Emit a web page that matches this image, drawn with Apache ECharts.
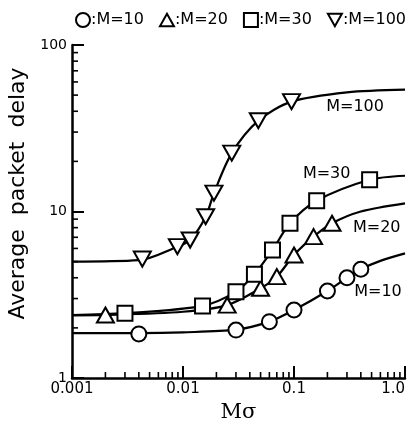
<!DOCTYPE html>
<html>
<head>
<meta charset="utf-8">
<script src="https://cdn.jsdelivr.net/npm/echarts@6/dist/echarts.min.js"></script>
<style>
  html, body { margin: 0; padding: 0; background: #fff; }
  #chart { width: 419px; height: 427px; }
</style>
</head>
<body>
<div id="chart"></div>
<script>
// markers
const m10X = [0.004, 0.03, 0.06, 0.1, 0.2, 0.3, 0.4]
const m10Y = [1.84, 1.94, 2.18, 2.56, 3.33, 4.0, 4.5]
const m20X = [0.002, 0.025, 0.05, 0.07, 0.1, 0.15, 0.22]
const m20Y = [2.39, 2.74, 3.46, 4.06, 5.48, 7.06, 8.5]
const m30X = [0.003, 0.015, 0.03, 0.044, 0.064, 0.092, 0.16, 0.48]
const m30Y = [2.45, 2.71, 3.3, 4.2, 5.87, 8.5, 11.6, 15.5]
const m100X = [0.0043, 0.0089, 0.0116, 0.016, 0.019, 0.0275, 0.0477, 0.095]
const m100Y = [5.18, 6.15, 6.74, 9.3, 12.9, 22.4, 35.1, 45.7]

// fitted curves (points along the drawn lines)
const c10X = [0.001, 0.004, 0.01, 0.03, 0.06, 0.1, 0.2, 0.3, 0.4, 0.6, 1.0]
const c10Y = [1.86, 1.86, 1.88, 1.95, 2.18, 2.56, 3.33, 4.0, 4.5, 5.05, 5.6]
const c20X = [0.001, 0.002, 0.01, 0.025, 0.05, 0.07, 0.1, 0.15, 0.22, 0.4, 1.0]
const c20Y = [2.38, 2.39, 2.5, 2.74, 3.46, 4.06, 5.48, 7.06, 8.5, 10.0, 11.2]
const c30X = [0.001, 0.003, 0.015, 0.03, 0.044, 0.064, 0.092, 0.16, 0.48, 1.0]
const c30Y = [2.39, 2.45, 2.71, 3.3, 4.2, 5.87, 8.5, 11.6, 15.5, 16.4]
const c100X = [0.001, 0.004, 0.0089, 0.0116, 0.016, 0.019, 0.0275, 0.0477, 0.095, 0.3, 1.0]
const c100Y = [5.0, 5.1, 6.15, 6.74, 9.3, 12.9, 22.4, 35.1, 45.7, 52, 54]

const curveNames = ['M=10', 'M=20', 'M=30', 'M=100']
const curveLabelX = [0.571, 0.556, 0.197, 0.355]
const curveLabelY = [3.3, 7.93, 16.8, 42.6]

// minor tick values of the log axes
const xMinor = [0.002, 0.003, 0.004, 0.005, 0.006, 0.007, 0.008, 0.009,
    0.02, 0.03, 0.04, 0.05, 0.06, 0.07, 0.08, 0.09,
    0.2, 0.3, 0.4, 0.5, 0.6, 0.7, 0.8, 0.9]
const yMinor = [2, 3, 4, 5, 6, 7, 8, 9, 20, 30, 40, 50, 60, 70, 80, 90]

const font = '"DejaVu Sans", sans-serif'
const zip = (xs, ys) => xs.map((x, i) => [x, ys[i]])
const downTri = 'path://M0,0 L10,0 L5,9 Z'
const upTri = 'path://M5,0 L10,9 L0,9 Z'

const markStyle = { color: '#fff', borderColor: '#000', borderWidth: 2, opacity: 1 }

function curve(xs, ys) {
    return {
        type: 'line', data: zip(xs, ys), smooth: 0.3, showSymbol: false,
        lineStyle: { color: '#000', width: 2.2 }, z: 2, silent: true
    }
}
function marks(name, xs, ys, symbol, size) {
    return {
        name: name, type: 'scatter', data: zip(xs, ys), symbol: symbol,
        symbolSize: size, itemStyle: markStyle, z: 3
    }
}
function minorTicks(data, vertical) {
    return {
        type: 'custom', silent: true, clip: false, z: 5,
        data: data,
        renderItem: (params, api) => {
            const p = api.coord([api.value(0), api.value(1)])
            const shape = vertical
                ? { x1: p[0], y1: p[1], x2: p[0], y2: p[1] - 6 }
                : { x1: p[0], y1: p[1], x2: p[0] + 6, y2: p[1] }
            return { type: 'line', shape: shape, style: { stroke: '#000', lineWidth: 1.6 } }
        }
    }
}

const chart = echarts.init(document.getElementById('chart'))
chart.setOption({
    animation: false,
    backgroundColor: '#fff',
    legend: {
        top: 7, left: 70, itemGap: 15, itemWidth: 14, itemHeight: 14,
        textStyle: { fontFamily: font, fontSize: 16, color: '#000', padding: [0, 0, 0, -4] },
        formatter: n => ':' + n,
        data: curveNames
    },
    grid: { left: 72, right: 14, top: 45, bottom: 49, outerBoundsMode: 'none', containLabel: false },
    xAxis: {
        type: 'log', logBase: 10, min: 0.001, max: 1,
        name: 'Mσ', nameLocation: 'middle', nameGap: 21,
        nameTextStyle: { fontFamily: '"DejaVu Serif", serif', fontSize: 21, color: '#000' },
        axisLine: { lineStyle: { color: '#000', width: 2.5 } },
        axisTick: { inside: true, length: 12, lineStyle: { color: '#000', width: 2 } },
        splitLine: { show: false },
        axisLabel: {
            fontFamily: font, fontSize: 15, color: '#000', margin: 4,
            alignMaxLabel: 'right',
            formatter: v => v >= 1 ? '1.0' : String(+v.toPrecision(1))
        }
    },
    yAxis: {
        type: 'log', logBase: 10, min: 1, max: 100,
        name: 'Average  packet  delay', nameLocation: 'middle', nameGap: 38,
        nameTextStyle: { fontFamily: font, fontSize: 22, color: '#000', padding: [0, 0, 0, 36] },
        axisLine: { lineStyle: { color: '#000', width: 2.5 } },
        axisTick: { inside: true, length: 12, lineStyle: { color: '#000', width: 2 } },
        splitLine: { show: false },
        axisLabel: { fontFamily: font, fontSize: 14, color: '#000', margin: 5 }
    },
    series: [
        minorTicks(xMinor.map(v => [v, 1]), true),
        minorTicks(yMinor.map(v => [0.001, v]), false),
        curve(c10X, c10Y), curve(c20X, c20Y), curve(c30X, c30Y), curve(c100X, c100Y),
        marks('M=10', m10X, m10Y, 'circle', 15),
        marks('M=20', m20X, m20Y, upTri, [17, 15]),
        marks('M=30', m30X, m30Y, 'rect', 15),
        marks('M=100', m100X, m100Y, downTri, [17, 15]),
        {
            type: 'scatter', symbolSize: 0, silent: true, z: 4,
            itemStyle: { opacity: 1 },
            data: curveNames.map((n, i) => ({ value: [curveLabelX[i], curveLabelY[i]], name: n })),
            label: {
                show: true, position: 'inside', formatter: p => p.name,
                fontFamily: font, fontSize: 16, color: '#000'
            }
        }
    ]
})
</script>
</body>
</html>
